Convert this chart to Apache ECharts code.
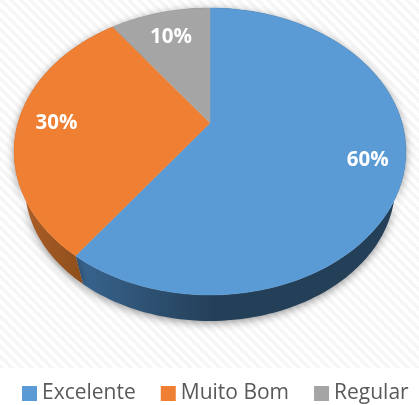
<!DOCTYPE html>
<html>
<head>
<meta charset="utf-8">
<style>
html,body{margin:0;padding:0;background:#fff;}
#bg{position:absolute;left:0;top:0;width:419px;height:368px;
background:repeating-linear-gradient(45deg,#f6f6f6 0,#f6f6f6 3.5px,#ffffff 3.5px,#ffffff 7px);}
#c{position:absolute;left:0;top:0;width:419px;height:405px;}
</style>
<script src="https://cdn.jsdelivr.net/npm/echarts@6/dist/echarts.min.js"></script>
</head>
<body>
<div id="bg"></div>
<div id="c"></div>
<script>
const categories = ['Excelente', 'Muito Bom', 'Regular'];
const values = [60, 30, 10];
const faceColors = ['#5B9BD5', '#EF7F32', '#A5A5A5'];
const sideStops = [['#38648E', '#243F58'], ['#B0602A', '#8F4F1C'], ['#7A7A7A', '#6A6A6A']];
const labelFractions = [0.82, 0.8, 0.75];

// Perspective view of a flat disc
const W = 419, H = 405;
const persp = -0.1986;
const topDisc = {cx: 210, cy: 123, rx: 192, ry: 137.8};
const baseDisc = {cx: 210, cy: 158.5, rx: 181.5, ry: 130.2};
const total = values.reduce((a, b) => a + b, 0);

function project(d, turn, f) {
  const a = turn * 2 * Math.PI;
  const x = Math.sin(a) * f, y = -Math.cos(a) * f;
  const w = 1 + persp * y;
  return [d.cx + d.rx * x / w, d.cy + d.ry * y / w];
}
function arc(d, t0, t1) {
  const n = Math.max(2, Math.ceil((t1 - t0) * 240));
  const pts = [];
  for (let i = 0; i <= n; i++) pts.push(project(d, t0 + (t1 - t0) * i / n, 1));
  return pts;
}
function startOf(i) {
  let s = 0;
  for (let k = 0; k < i; k++) s += values[k];
  return s / total;
}

function renderSlice(params, api) {
  const i = params.seriesIndex;
  const t0 = startOf(i), t1 = t0 + api.value(0) / total;
  const rim = arc(topDisc, t0, t1);
  const baseRim = arc(baseDisc, t0, t1).reverse();
  const mid = project(topDisc, (t0 + t1) / 2, labelFractions[i]);
  return {
    type: 'group',
    children: [
      {
        type: 'polygon', z2: 1,
        shape: {points: rim.concat(baseRim)},
        style: {
          fill: {
            type: 'linear', global: true, x: i === 0 ? 80 : 15, y: 0, x2: i === 0 ? 215 : 80, y2: 0,
            colorStops: [{offset: 0, color: sideStops[i][0]}, {offset: 1, color: sideStops[i][1]}]
          },
          shadowBlur: 8, shadowColor: 'rgba(0,0,0,0.42)', shadowOffsetX: 0, shadowOffsetY: 2
        }
      },
      {
        type: 'polygon', z2: 5,
        shape: {points: [[topDisc.cx, topDisc.cy]].concat(rim)},
        style: {fill: faceColors[i], stroke: faceColors[i], lineWidth: 0.5}
      },
      {
        type: 'text', z2: 10,
        style: {
          x: mid[0], y: mid[1], text: api.value(0) + '%',
          fill: '#ffffff', font: 'bold 20.5px "Open Sans"',
          textAlign: 'center', textVerticalAlign: 'middle'
        }
      }
    ]
  };
}

const chart = echarts.init(document.getElementById('c'), null, {width: W, height: H, renderer: 'canvas'});
chart.setOption({
  animation: false,
  backgroundColor: 'transparent',
  legend: {
    data: categories,
    left: 22, top: 383,
    icon: 'rect',
    itemWidth: 15, itemHeight: 15, itemGap: 25,
    textStyle: {color: '#595959', fontSize: 21, fontFamily: 'Open Sans', padding: [0, 0, 0, 0]},
    padding: 0, selectedMode: false
  },
  series: categories.map((name, i) => ({
    type: 'custom',
    name: name,
    coordinateSystem: 'none',
    renderItem: renderSlice,
    itemStyle: {color: faceColors[i]},
    silent: true,
    data: [[values[i]]]
  }))
});
</script>
</body>
</html>
